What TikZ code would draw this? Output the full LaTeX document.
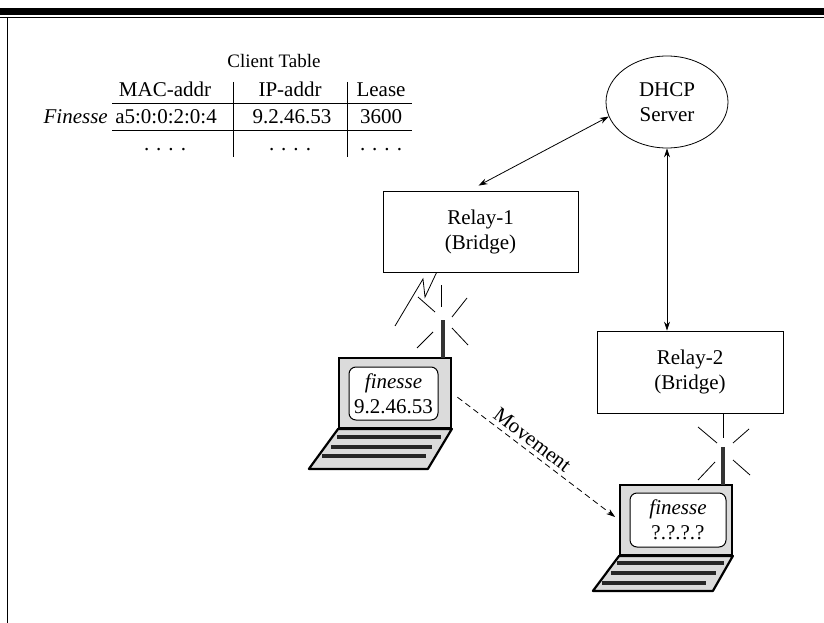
\documentclass[tikz,border=0pt]{standalone}
\usepackage{fontspec}
\setmainfont{Liberation Serif}
\usetikzlibrary{arrows.meta,calc,shapes.geometric}

\begin{document}
\begin{tikzpicture}[x=1pt,y=-1pt,
  every node/.style={font=\fontsize{21}{25}\selectfont, inner sep=0pt},
  relay/.style={draw, line width=0.8pt, align=center},
  server/.style={draw, ellipse, line width=0.8pt, align=center},
  link/.style={line width=0.8pt, {Stealth[length=9pt,width=6pt]}-{Stealth[length=9pt,width=6pt]}},
  move/.style={line width=0.8pt, dash pattern=on 6pt off 4pt, -{Stealth[length=9pt,width=6pt]}},
  rule/.style={line width=0.7pt},
  screen/.style={draw, line width=1.8pt, fill=gray!28, minimum width=112pt, minimum height=70pt},
  display/.style={draw, line width=1pt, fill=white, rounded corners=7pt, align=center},
  kbd/.style={draw, line width=2.2pt, fill=gray!28, line join=round},
  keyrow/.style={line width=3.6pt, black!85},
  mast/.style={line width=3.6pt, black!80},
  spark/.style={line width=0.8pt},
]
\useasboundingbox (0,0) rectangle (824,623);

% page frame
\fill (0,8) rectangle (824,15);
\draw[line width=1pt] (0,18) -- (824,18);
\draw[line width=0.9pt] (7,18) -- (7,623);

% client table
\node[font=\fontsize{19}{22}\selectfont, anchor=base] (ttitle) at (274,68) {Client Table};
\node[anchor=base] (hmac) at (165,97) {MAC-addr};
\node[anchor=base] (hip) at (290,97) {IP-addr};
\node[anchor=base] (hlease) at (381,97) {Lease};
\node[anchor=base east, font=\fontsize{21}{25}\selectfont\itshape] (hname) at (108,124) {Finesse};
\node[anchor=base] (cmac) at (166,124) {a5:0:0:2:0:4};
\node[anchor=base] (cip) at (292,124) {9.2.46.53};
\node[anchor=base] (clease) at (381,124) {3600};
\node[anchor=base] (dmac) at (165,150) {. . . .};
\node[anchor=base] (dip) at (290,150) {. . . .};
\node[anchor=base] (dlease) at (381,150) {. . . .};
\draw[rule] (112,103) -- (412,103);
\draw[rule] (112,130) -- (412,130);
\draw[rule] (233,82) -- (233,157);
\draw[rule] (347,82) -- (347,157);

% server and relays
\node[server, minimum width=122pt, minimum height=92pt] (dhcp) at (667,102) {DHCP\\Server};
\node[relay, minimum width=195pt, minimum height=81pt] (r1) at (480.5,231.5) {Relay-1\\(Bridge)};
\node[relay, minimum width=186pt, minimum height=82pt] (r2) at (690,372) {Relay-2\\(Bridge)};

\draw[link] (dhcp.194) -- ($(r1.north)+(-2,-5)$);
\draw[link] (dhcp.south) -- (dhcp.south |- r2.north);

% laptop 1
\node[screen] (lap1) at (395,393) {};
\node[display, minimum width=89pt, minimum height=53pt] (lap1d) at (393.5,393.5) {{\itshape finesse}\\9.2.46.53};
\draw[kbd] (lap1.south west) -- (lap1.south east) -- ++(-24,40) -- ++(-119,0) -- cycle;
\draw[keyrow] ($(lap1.south west)+(-1,8)$) -- ++(104,0);
\draw[keyrow] ($(lap1.south west)+(-7,18)$) -- ++(101,0);
\draw[keyrow] ($(lap1.south west)+(-16,27)$) -- ++(104,0);
\draw[mast] (443,320) -- (443,358);
\draw[spark] (441,285) -- (441,307);
\draw[spark] (418,297) -- (435,312);
\draw[spark] (467,298) -- (452,317);
\draw[spark] (417,348) -- (433,332);
\draw[spark] (452,328) -- (468,345);
% radio link from relay 1
\draw[spark] ($(r1.south west)+(54,0)$) -- (425,297) -- (423,279) -- (395,326);

% laptop 2
\node[screen] (lap2) at (676,520) {};
\node[display, minimum width=96pt, minimum height=54pt] (lap2d) at (678,520) {{\itshape finesse}\\?.?.?.?};
\draw[kbd] (lap2.south west) -- (lap2.south east) -- ++(-20,35) -- ++(-120,0) -- cycle;
\draw[keyrow] ($(lap2.south west)+(-2,7)$) -- ++(107,0);
\draw[keyrow] ($(lap2.south west)+(-8,17)$) -- ++(105,0);
\draw[keyrow] ($(lap2.south west)+(-17,27)$) -- ++(104,0);
\draw[mast] (723,447) -- (723,485);
\draw[spark] (r2.south -| 723,0) -- (723,438);
\draw[spark] (698,427) -- (717,443);
\draw[spark] (733,443) -- (749,429);
\draw[spark] (698,480) -- (715,462);
\draw[spark] (733,460) -- (750,475);

% movement of the station
\draw[move, shorten <=7pt, shorten >=5pt] (lap1.east) -- (lap2.west)
  node[pos=0.44, sloped, above=4pt] (mvlabel) {Movement};
\end{tikzpicture}
\end{document}
